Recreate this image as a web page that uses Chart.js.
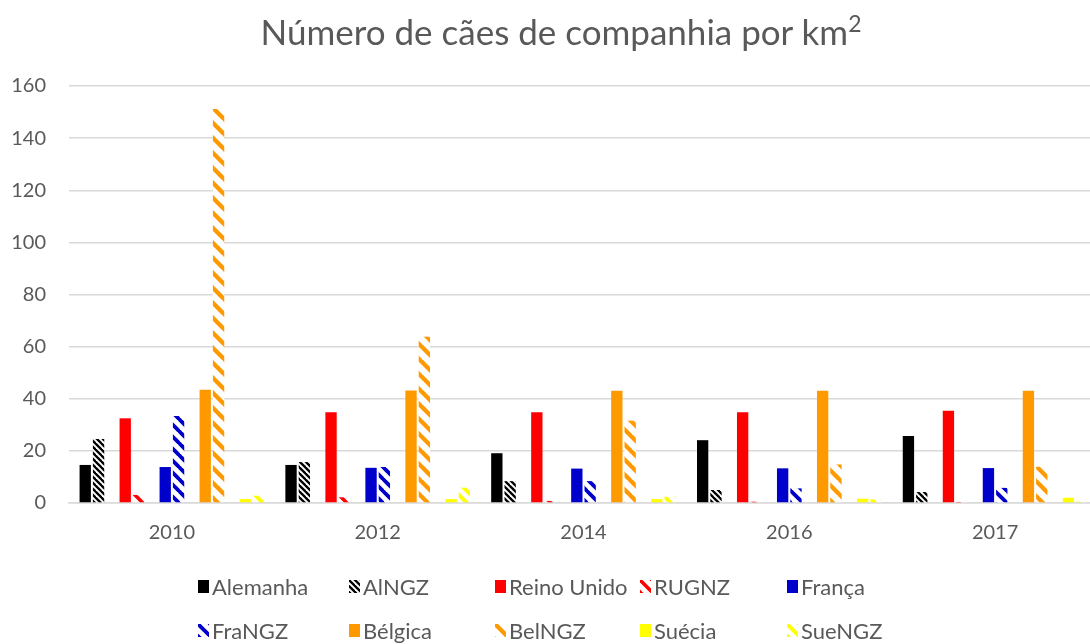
<!DOCTYPE html>
<html>
<head>
<meta charset="utf-8">
<script src="https://cdn.jsdelivr.net/npm/chart.js@4.4.1/dist/chart.umd.min.js"></script>
<style>
  html, body { margin: 0; padding: 0; background: #fff; overflow: hidden; }
  #wrap { position: relative; width: 1090px; height: 644px; overflow: hidden; background: #fff; }
  #chart { position: absolute; left: 0; top: 0; }
  #title { position: absolute; left: 0; top: 9px; width: 1122px; text-align: center;
           font-family: Lato, "Open Sans", sans-serif; font-size: 35px; color: #595959; line-height: 44px; }
  #title sup { font-size: 23px; vertical-align: 13px; line-height: 0; }
  .leg { position: absolute; font-family: Lato, "Open Sans", sans-serif; font-size: 22px; color: #595959;
         white-space: nowrap; line-height: 26px; }
  .leg canvas { position: absolute; left: 0; top: 6px; }
  .leg span { position: absolute; left: 14px; top: 0; }
</style>
</head>
<body>
<div id="wrap">
  <canvas id="chart" width="1122" height="644"></canvas>
  <div id="title">Número de cães de companhia por km<sup>2</sup></div>
  <div id="legend"></div>
</div>
<script>
// ---- data ----
const categories = ['2010', '2012', '2014', '2016', '2017'];
const alemanha   = [14.6, 14.6, 19.1, 24.1, 25.7];
const alNGZ      = [24.6, 15.7, 8.4, 5.0, 4.2];
const reinoUnido = [32.5, 34.8, 34.8, 34.8, 35.4];
const ruGNZ      = [3.1, 2.2, 0.8, 0.5, 0.4];
const franca     = [13.8, 13.5, 13.2, 13.3, 13.4];
const fraNGZ     = [33.4, 13.8, 8.4, 5.6, 5.8];
const belgica    = [43.5, 43.2, 43.1, 43.1, 43.1];
const belNGZ     = [151.2, 63.8, 31.6, 14.8, 13.9];
const suecia     = [1.5, 1.5, 1.5, 1.65, 2.0];
const sueNGZ     = [2.8, 5.9, 2.4, 1.4, 0.5];
const yTicks     = [0, 20, 40, 60, 80, 100, 120, 140, 160];
const empty      = [null, null, null, null, null];

// ---- patterns ----
function stripe(color, p, w) {
  const c = document.createElement('canvas');
  c.width = p; c.height = p;
  const g = c.getContext('2d');
  g.fillStyle = '#ffffff';
  g.fillRect(0, 0, p, p);
  g.strokeStyle = color;
  g.lineWidth = w;
  for (let k = -1; k <= 1; k++) {
    g.beginPath();
    g.moveTo(k * p - 1, -1);
    g.lineTo(k * p + p + 1, p + 1);
    g.stroke();
  }
  return c;
}
const ctx = document.getElementById('chart').getContext('2d');
const tiles = {
  al: stripe('#000000', 6, 2.3),
  ru: stripe('#FF0000', 12, 3.6),
  fr: stripe('#0000CC', 12, 3.8),
  be: stripe('#FF9900', 15, 4.3),
  su: stripe('#FFFF00', 12, 4.0)
};
const pat = k => ctx.createPattern(tiles[k], 'repeat');

const series = [
  { label: 'Alemanha',    data: alemanha,   bg: '#000000', icon: null },
  { label: 'AlNGZ',       data: alNGZ,      bg: pat('al'), icon: 'al' },
  { label: '',            data: empty,      spacer: true },
  { label: 'Reino Unido', data: reinoUnido, bg: '#FF0000', icon: null },
  { label: 'RUGNZ',       data: ruGNZ,      bg: pat('ru'), icon: 'ru' },
  { label: '',            data: empty,      spacer: true },
  { label: 'França',      data: franca,     bg: '#0000CC', icon: null },
  { label: 'FraNGZ',      data: fraNGZ,     bg: pat('fr'), icon: 'fr' },
  { label: '',            data: empty,      spacer: true },
  { label: 'Bélgica',     data: belgica,    bg: '#FF9900', icon: null },
  { label: 'BelNGZ',      data: belNGZ,     bg: pat('be'), icon: 'be' },
  { label: '',            data: empty,      spacer: true },
  { label: 'Suécia',      data: suecia,     bg: '#FFFF00', icon: null },
  { label: 'SueNGZ',      data: sueNGZ,     bg: pat('su'), icon: 'su' }
];

new Chart(ctx, {
  type: 'bar',
  data: {
    labels: categories,
    datasets: series.map(s => ({
      label: s.label,
      data: s.data,
      backgroundColor: s.bg || 'rgba(0,0,0,0)',
      borderWidth: 0,
      categoryPercentage: 0.907,
      barPercentage: 0.85
    }))
  },
  options: {
    responsive: false,
    animation: false,
    devicePixelRatio: 1,
    layout: { padding: { top: 86, right: 24, left: 0, bottom: 0 } },
    plugins: { legend: { display: false }, title: { display: false }, tooltip: { enabled: false } },
    scales: {
      x: {
        grid: { display: false, drawTicks: false },
        border: { display: true, color: '#d9d9d9', width: 1.5 },
        ticks: { color: '#595959', font: { family: 'Lato', size: 20 }, padding: 18 },
        afterFit: s => { s.height = 141; }
      },
      y: {
        min: 0, max: 160,
        afterBuildTicks: s => { s.ticks = yTicks.map(v => ({ value: v })); },
        grid: { color: '#d9d9d9', lineWidth: 1.5, drawTicks: false },
        border: { display: false },
        ticks: { color: '#595959', font: { family: 'Lato', size: 20 }, padding: 23 },
        afterFit: s => { s.width = 69; }
      }
    }
  }
});

// ---- legend (HTML) ----
const legend = document.getElementById('legend');
const real = series.filter(s => !s.spacer);
const colX = [198, 349, 495, 640, 787];
const rowY = [574, 618];
real.forEach((s, i) => {
  const d = document.createElement('div');
  d.className = 'leg';
  d.style.left = colX[i % 5] + 'px';
  d.style.top = rowY[Math.floor(i / 5)] + 'px';
  const c = document.createElement('canvas');
  c.width = 11; c.height = 13;
  const g = c.getContext('2d');
  if (s.icon) { g.fillStyle = g.createPattern(tiles[s.icon], 'repeat'); }
  else { g.fillStyle = s.bg; }
  g.fillRect(0, 0, 11, 13);
  const t = document.createElement('span');
  t.textContent = s.label;
  d.appendChild(c); d.appendChild(t);
  legend.appendChild(d);
});
</script>
</body>
</html>
